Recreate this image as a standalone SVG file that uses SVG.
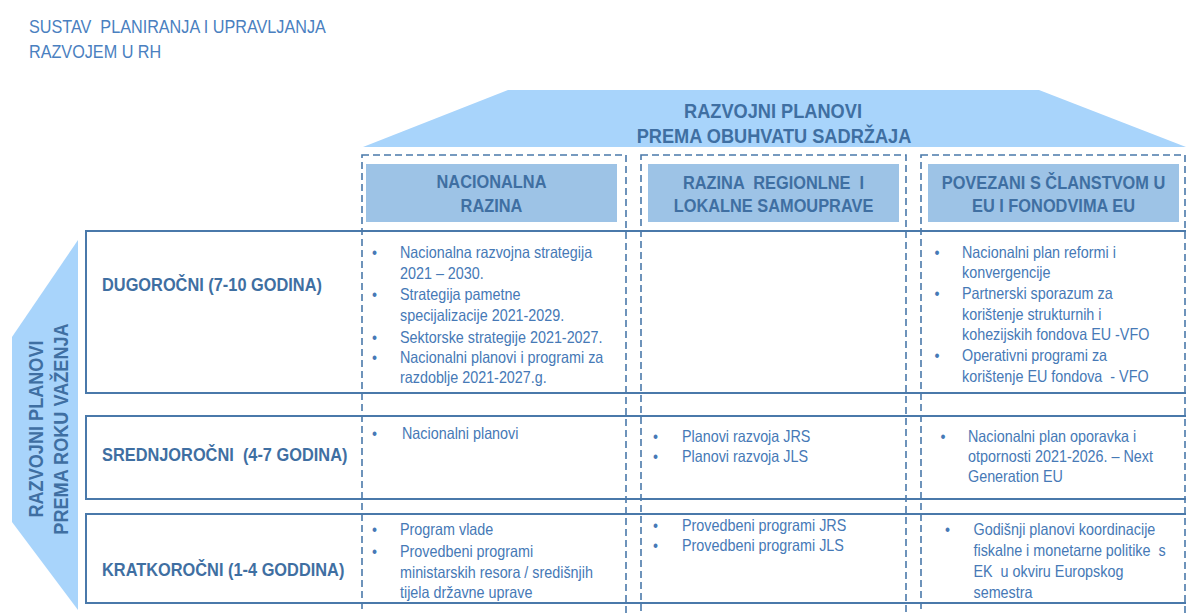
<svg xmlns="http://www.w3.org/2000/svg" width="1186" height="613" viewBox="0 0 1186 613">
<style>
text{font-family:'Liberation Sans',Arial,sans-serif}
.t{font-size:18px;fill:#4a80c0}
.ban{fill:#a8d4fb}
.bt{font-size:21px;font-weight:bold;fill:#3f6fa2;text-anchor:middle}
.sb{font-size:19.5px;font-weight:bold;fill:#3f6fa2;text-anchor:middle}
.hb{fill:#9dc3e6}
.ht{font-size:18.5px;font-weight:bold;fill:#3f6fa2;text-anchor:middle}
.rl{font-size:18.5px;font-weight:bold;fill:#3f6fa2}
.b{font-size:16.5px;fill:#4679b6}
.dash{fill:none;stroke:#4a79aa;stroke-width:1.6;stroke-dasharray:7 4}
.row{fill:none;stroke:#4a79aa;stroke-width:2}
</style>
<rect width="1186" height="613" fill="#ffffff"/>

<g id="title">
<text class="t" transform="translate(29 33) scale(.9 1)" xml:space="preserve">SUSTAV  PLANIRANJA I UPRAVLJANJA</text>
<text class="t" transform="translate(29 57.5) scale(.9 1)">RAZVOJEM U RH</text>
</g>

<g id="banner-top">
<polygon class="ban" points="508,90 1039,90 1186,147 363,147"/>
<text class="bt" transform="translate(773 117.5) scale(.867 1)">RAZVOJNI PLANOVI</text>
<text class="bt" transform="translate(774 143) scale(.867 1)">PREMA OBUHVATU SADRŽAJA</text>
</g>

<g id="banner-left">
<polygon class="ban" points="78,240 12,337 12,522 78,610"/>
<text class="sb" transform="translate(42.5 429) rotate(-90) scale(.93 1)"><tspan x="0" y="0">RAZVOJNI PLANOVI</tspan><tspan x="0" dy="25.5">PREMA ROKU VAŽENJA</tspan></text>
</g>

<g id="connectors">
<rect class="row" x="86" y="231" width="1120" height="162"/>
<rect class="row" x="86" y="416" width="1120" height="83"/>
<rect class="row" x="86" y="514" width="1120" height="89"/>
<rect class="dash" x="362" y="155" width="264" height="480"/>
<rect class="dash" x="641" y="155" width="265" height="480"/>
<rect class="dash" x="921" y="155" width="264" height="480"/>
</g>

<g id="col-nacionalna">
<rect class="hb" x="366" y="164" width="251" height="58"/>
<text class="ht" transform="translate(491.5 188) scale(.885 1)">NACIONALNA</text>
<text class="ht" transform="translate(491.5 212) scale(.885 1)">RAZINA</text>
</g>

<g id="col-regionalna">
<rect class="hb" x="648" y="164" width="251" height="58"/>
<text class="ht" transform="translate(773.5 189) scale(.885 1)" xml:space="preserve">RAZINA  REGIONLNE  I</text>
<text class="ht" transform="translate(773.5 212) scale(.885 1)">LOKALNE SAMOUPRAVE</text>
</g>

<g id="col-eu">
<rect class="hb" x="928" y="164" width="251" height="58"/>
<text class="ht" transform="translate(1053.5 189) scale(.885 1)">POVEZANI S ČLANSTVOM U</text>
<text class="ht" transform="translate(1053.5 212) scale(.885 1)">EU I FONODVIMA EU</text>
</g>

<g id="row-dugorocni">
<text class="rl" transform="translate(102 291) scale(.885 1)">DUGOROČNI (7-10 GODINA)</text>
</g>

<g id="row-srednjorocni">
<text class="rl" transform="translate(102 461) scale(.885 1)" xml:space="preserve">SREDNJOROČNI  (4-7 GODINA)</text>
</g>

<g id="row-kratkorocni">
<text class="rl" transform="translate(102 576) scale(.885 1)">KRATKOROČNI (1-4 GODDINA)</text>
</g>

<g id="cell-dug-nac">
<text class="b" transform="translate(372 258) scale(.87 1)">•</text>
<text class="b" transform="translate(400 258) scale(.87 1)">Nacionalna razvojna strategija</text>
<text class="b" transform="translate(400 278.5) scale(.87 1)">2021 – 2030.</text>
<text class="b" transform="translate(372 300) scale(.87 1)">•</text>
<text class="b" transform="translate(400 300) scale(.87 1)">Strategija pametne</text>
<text class="b" transform="translate(400 321) scale(.87 1)">specijalizacije 2021-2029.</text>
<text class="b" transform="translate(372 342.5) scale(.87 1)">•</text>
<text class="b" transform="translate(400 342.5) scale(.87 1)">Sektorske strategije 2021-2027.</text>
<text class="b" transform="translate(372 363) scale(.87 1)">•</text>
<text class="b" transform="translate(400 363) scale(.87 1)">Nacionalni planovi i programi za</text>
<text class="b" transform="translate(400 383) scale(.87 1)">razdoblje 2021-2027.g.</text>
</g>

<g id="cell-dug-eu">
<text class="b" transform="translate(934.5 258) scale(.87 1)">•</text>
<text class="b" transform="translate(962 258) scale(.87 1)">Nacionalni plan reformi i</text>
<text class="b" transform="translate(962 278) scale(.87 1)">konvergencije</text>
<text class="b" transform="translate(934.5 299) scale(.87 1)">•</text>
<text class="b" transform="translate(962 299) scale(.87 1)">Partnerski sporazum za</text>
<text class="b" transform="translate(962 319.5) scale(.87 1)">korištenje strukturnih i</text>
<text class="b" transform="translate(962 340) scale(.87 1)">kohezijskih fondova EU -VFO</text>
<text class="b" transform="translate(934.5 361) scale(.87 1)">•</text>
<text class="b" transform="translate(962 361) scale(.87 1)">Operativni programi za</text>
<text class="b" transform="translate(962 381.5) scale(.87 1)" xml:space="preserve">korištenje EU fondova  - VFO</text>
</g>

<g id="cell-sred-nac">
<text class="b" transform="translate(372 439) scale(.87 1)">•</text>
<text class="b" transform="translate(402 439) scale(.87 1)">Nacionalni planovi</text>
</g>

<g id="cell-sred-reg">
<text class="b" transform="translate(653 441.5) scale(.87 1)">•</text>
<text class="b" transform="translate(682 441.5) scale(.87 1)">Planovi razvoja JRS</text>
<text class="b" transform="translate(653 461.5) scale(.87 1)">•</text>
<text class="b" transform="translate(682 461.5) scale(.87 1)">Planovi razvoja JLS</text>
</g>

<g id="cell-sred-eu">
<text class="b" transform="translate(940.5 441.5) scale(.87 1)">•</text>
<text class="b" transform="translate(968 441.5) scale(.87 1)">Nacionalni plan oporavka i</text>
<text class="b" transform="translate(968 461.5) scale(.87 1)">otpornosti 2021-2026. – Next</text>
<text class="b" transform="translate(968 481.5) scale(.87 1)">Generation EU</text>
</g>

<g id="cell-krat-nac">
<text class="b" transform="translate(372 535) scale(.87 1)">•</text>
<text class="b" transform="translate(400 535) scale(.87 1)">Program vlade</text>
<text class="b" transform="translate(372 556.5) scale(.87 1)">•</text>
<text class="b" transform="translate(400 556.5) scale(.87 1)">Provedbeni programi</text>
<text class="b" transform="translate(400 577.5) scale(.87 1)">ministarskih resora / središnjih</text>
<text class="b" transform="translate(400 598) scale(.87 1)">tijela državne uprave</text>
</g>

<g id="cell-krat-reg">
<text class="b" transform="translate(653 530.5) scale(.87 1)">•</text>
<text class="b" transform="translate(682 530.5) scale(.87 1)">Provedbeni programi JRS</text>
<text class="b" transform="translate(653 550.5) scale(.87 1)">•</text>
<text class="b" transform="translate(682 550.5) scale(.87 1)">Provedbeni programi JLS</text>
</g>

<g id="cell-krat-eu">
<text class="b" transform="translate(945 535) scale(.87 1)">•</text>
<text class="b" transform="translate(973.5 535) scale(.87 1)">Godišnji planovi koordinacije</text>
<text class="b" transform="translate(973.5 556) scale(.87 1)" xml:space="preserve">fiskalne i monetarne politike  s</text>
<text class="b" transform="translate(973.5 577) scale(.87 1)" xml:space="preserve">EK  u okviru Europskog</text>
<text class="b" transform="translate(973.5 598) scale(.87 1)">semestra</text>
</g>
</svg>
